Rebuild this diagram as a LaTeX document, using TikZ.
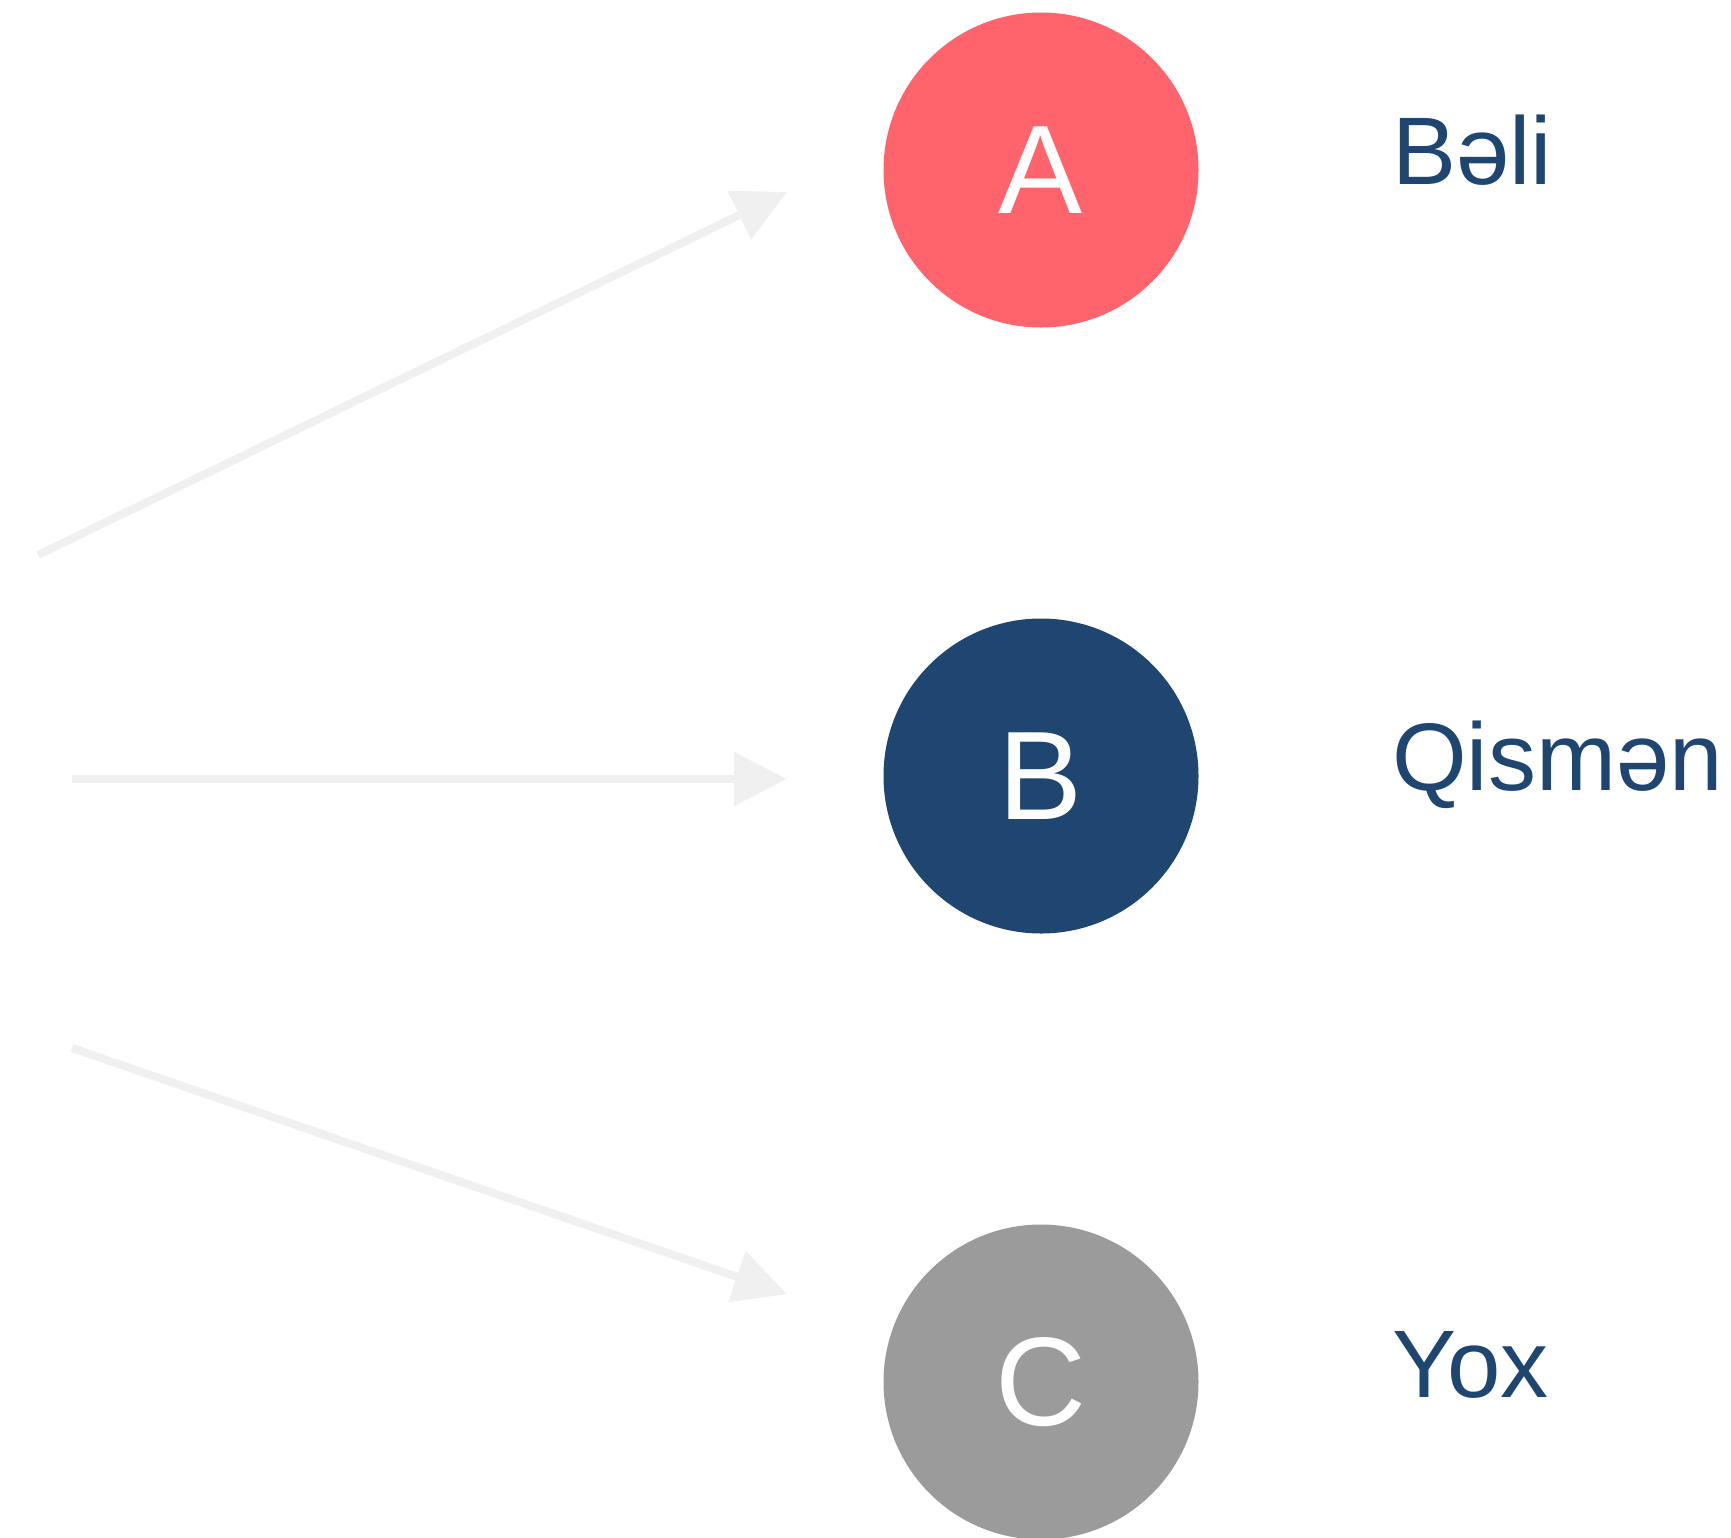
\documentclass[tikz,border=0pt]{standalone}
\usepackage{fontspec}
\setmainfont{Liberation Sans}
\usetikzlibrary{arrows.meta}
\definecolor{cA}{HTML}{FF636B}
\definecolor{cB}{HTML}{1E4670}
\definecolor{cC}{HTML}{9B9B9B}
\definecolor{cArrow}{HTML}{F0F0F0}
\tikzset{
  dot/.style={circle, minimum size=315pt, inner sep=0pt, text=white, font=\fontsize{126}{126}\selectfont},
  lbl/.style={anchor=base west, inner sep=0pt, text=cB, font=\fontsize{96}{96}\selectfont},
  conn/.style={draw=cArrow, line width=8pt, -{Triangle[length=53pt,width=52pt]}}
}
\begin{document}
\begin{tikzpicture}[x=1pt,y=-1pt]
\clip (0,0) rectangle (1731,1537);
\fill[white] (0,0) rectangle (1731,1537);
\node[dot, fill=cA] (A) at (1041,170) {A};
\node[dot, fill=cB] (B) at (1041,776) {B};
\node[dot, fill=cC] (C) at (1041,1382) {C};
\node[lbl] (la) at (1392,184) {Bəli};
\node[lbl] (lb) at (1392,790) {Qismən};
\node[lbl] (lc) at (1392,1397) {Yox};
\coordinate (s1) at (38,555);
\coordinate (t1) at (787,192);
\coordinate (s2) at (72,779);
\coordinate (t2) at (787,779);
\coordinate (s3) at (72,1048);
\coordinate (t3) at (787,1294);
\draw[conn] (s1) -- (t1);
\draw[conn] (s2) -- (t2);
\draw[conn] (s3) -- (t3);
\end{tikzpicture}
\end{document}
